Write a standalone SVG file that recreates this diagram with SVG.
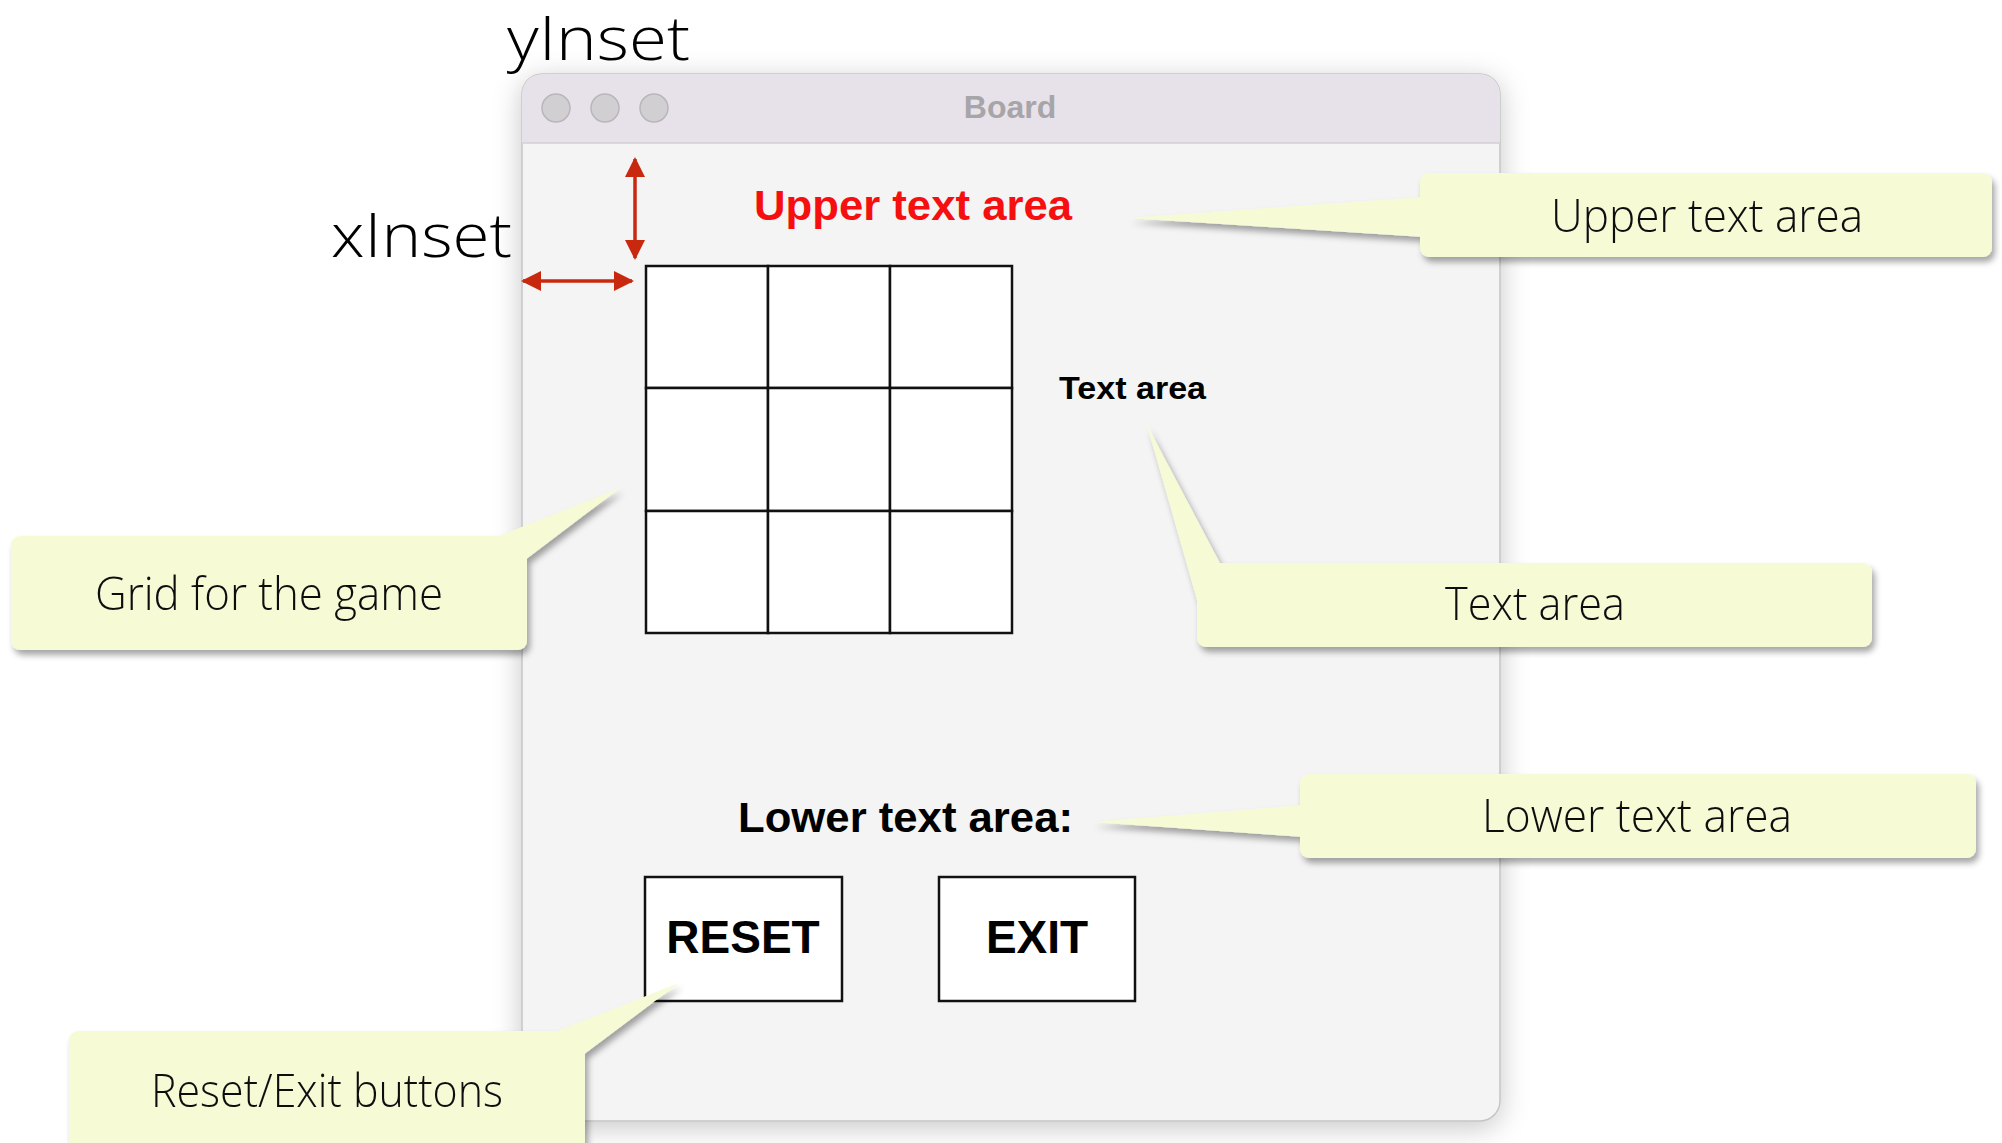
<svg xmlns="http://www.w3.org/2000/svg" width="2002" height="1143" viewBox="0 0 2002 1143">
<defs>
<filter id="winShadow" x="-10%" y="-10%" width="120%" height="120%">
<feDropShadow dx="0" dy="6" stdDeviation="14" flood-color="#000" flood-opacity="0.22"/>
</filter>
<filter id="calloutShadow" x="-5%" y="-10%" width="110%" height="130%">
<feDropShadow dx="3" dy="5" stdDeviation="3" flood-color="#000" flood-opacity="0.35"/>
</filter>
<marker id="redHead" viewBox="0 0 20 20" refX="18" refY="10" markerWidth="20" markerHeight="20" markerUnits="userSpaceOnUse" orient="auto-start-reverse">
<path d="M0,0 L20,10 L0,20 Z" fill="#c8290e"/>
</marker>
<style>
.callout{fill:#f6fbd6;}
.ctext{font-family:"Open Sans","Liberation Sans",sans-serif;font-weight:300;font-size:46px;fill:#111;text-anchor:middle;}
.inset{font-family:"Open Sans","Liberation Sans",sans-serif;font-weight:300;font-size:60px;fill:#000;}
.bold{font-family:"Liberation Sans",Arial,sans-serif;font-weight:bold;}
.cell{fill:#fff;stroke:#111;stroke-width:2.5;}
.btn{fill:#fff;stroke:#111;stroke-width:2.5;}
.redarrow{stroke:#c8290e;stroke-width:3.5;fill:none;marker-start:url(#redHead);marker-end:url(#redHead);}
.light{fill:#d2cfd3;stroke:#b9b6ba;stroke-width:1.5;}
</style>
</defs>
<rect width="2002" height="1143" fill="#fff"/>

<g id="window">
<rect x="522" y="74" width="978" height="1047" rx="20" fill="#f4f4f4" stroke="#c4c4c4" stroke-width="1.5" filter="url(#winShadow)"/>
<path d="M522,143 V94 A20,20 0 0 1 542,74 H1480 A20,20 0 0 1 1500,94 V143 Z" fill="#e7e2ea"/>
<line x1="522" y1="143" x2="1500" y2="143" stroke="#d2cfd4" stroke-width="1.5"/>
<circle class="light" cx="556" cy="108" r="14"/>
<circle class="light" cx="605" cy="108" r="14"/>
<circle class="light" cx="654" cy="108" r="14"/>
<text class="bold" x="1010" y="118" font-size="32" fill="#a7a5a8" text-anchor="middle">Board</text>
</g>

<g id="labels-inset">
<text class="inset" x="507" y="60" textLength="183" lengthAdjust="spacingAndGlyphs">yInset</text>
<text class="inset" x="331" y="257" textLength="181" lengthAdjust="spacingAndGlyphs">xInset</text>
</g>

<g id="upper-text">
<text class="bold" x="754" y="220" font-size="43" fill="#f50f0f" textLength="318" lengthAdjust="spacingAndGlyphs">Upper text area</text>
</g>

<g id="grid">
<rect class="cell" x="646" y="266" width="122" height="122"/>
<rect class="cell" x="768" y="266" width="122" height="122"/>
<rect class="cell" x="890" y="266" width="122" height="122"/>
<rect class="cell" x="646" y="388" width="122" height="123"/>
<rect class="cell" x="768" y="388" width="122" height="123"/>
<rect class="cell" x="890" y="388" width="122" height="123"/>
<rect class="cell" x="646" y="511" width="122" height="122"/>
<rect class="cell" x="768" y="511" width="122" height="122"/>
<rect class="cell" x="890" y="511" width="122" height="122"/>
</g>

<g id="text-area">
<text class="bold" x="1059" y="399" font-size="32" fill="#000" textLength="147" lengthAdjust="spacingAndGlyphs">Text area</text>
</g>

<g id="lower-text">
<text class="bold" x="738" y="832" font-size="42" fill="#000" textLength="335" lengthAdjust="spacingAndGlyphs">Lower text area:</text>
</g>

<g id="reset-button">
<rect class="btn" x="645" y="877" width="197" height="124"/>
<text class="bold" x="743" y="953" font-size="46" fill="#000" text-anchor="middle">RESET</text>
</g>

<g id="exit-button">
<rect class="btn" x="939" y="877" width="196" height="124"/>
<text class="bold" x="1037" y="953" font-size="46" fill="#000" text-anchor="middle">EXIT</text>
</g>

<g id="connectors">
<line class="redarrow" x1="635" y1="159" x2="635" y2="258"/>
<line class="redarrow" x1="523" y1="281" x2="632" y2="281"/>
</g>

<g id="callout-upper" filter="url(#calloutShadow)">
<polygon class="callout" points="1424,197 1128,218 1424,237"/>
<rect class="callout" x="1420" y="173" width="572" height="84" rx="9"/>
<text class="ctext" x="1707" y="232" textLength="312" lengthAdjust="spacingAndGlyphs">Upper text area</text>
</g>

<g id="callout-textarea" filter="url(#calloutShadow)">
<polygon class="callout" points="1222,567 1147,425 1199,607"/>
<rect class="callout" x="1197" y="563" width="675" height="84" rx="9"/>
<text class="ctext" x="1535" y="620" textLength="180" lengthAdjust="spacingAndGlyphs">Text area</text>
</g>

<g id="callout-grid" filter="url(#calloutShadow)">
<polygon class="callout" points="489,540 620,488 525,560"/>
<rect class="callout" x="11" y="536" width="516" height="114" rx="9"/>
<text class="ctext" x="269" y="610" textLength="348" lengthAdjust="spacingAndGlyphs">Grid for the game</text>
</g>

<g id="callout-lower" filter="url(#calloutShadow)">
<polygon class="callout" points="1304,805 1092,822 1304,837"/>
<rect class="callout" x="1300" y="774" width="676" height="84" rx="9"/>
<text class="ctext" x="1637" y="832" textLength="310" lengthAdjust="spacingAndGlyphs">Lower text area</text>
</g>

<g id="callout-buttons" filter="url(#calloutShadow)">
<polygon class="callout" points="547,1035 679,983 583,1055"/>
<rect class="callout" x="69" y="1031" width="516" height="140" rx="9"/>
<text class="ctext" x="327" y="1107" textLength="352" lengthAdjust="spacingAndGlyphs">Reset/Exit buttons</text>
</g>
</svg>
